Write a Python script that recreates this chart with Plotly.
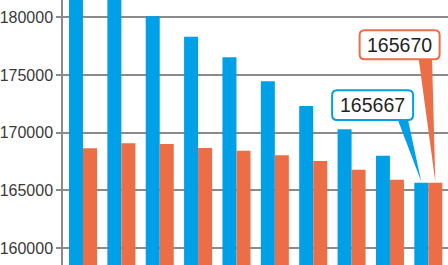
import plotly.graph_objects as go

categories = list(range(10))
blue_values = [183650, 181880, 180100, 178320, 176530, 174450, 172310, 170290, 168000, 165667]
orange_values = [168640, 169080, 169020, 168670, 168430, 168040, 167540, 166790, 165920, 165670]
y_ticks = [160000, 165000, 170000, 175000, 180000]

BLUE = "#00A0E9"
ORANGE = "#EC6E46"
GRID = "#8a8a8a"

BARGAP = 0.27
bar_w = (1 - BARGAP) / 2

fig = go.Figure()
fig.add_bar(x=categories, y=blue_values, marker=dict(color=BLUE, line=dict(width=0)), name="blue")
fig.add_bar(x=categories, y=orange_values, marker=dict(color=ORANGE, line=dict(width=0)), name="orange")


def rounded_rect(x0, x1, y0, y1, r):
    return (f"M {x0+r},{y1} L {x1-r},{y1} Q {x1},{y1} {x1},{y1-r} "
            f"L {x1},{y0+r} Q {x1},{y0} {x1-r},{y0} L {x0+r},{y0} "
            f"Q {x0},{y0} {x0},{y0+r} L {x0},{y1-r} Q {x0},{y1} {x0+r},{y1} Z")


def callout(xc, yv, color, text, box, base):
    bx0, bx1, by0, by1 = box
    # pointer triangle
    fig.add_shape(type="path", xref="x", yref="y", xsizemode="pixel", ysizemode="pixel",
                  xanchor=xc, yanchor=yv,
                  path=f"M {base[0]},{by0+1} L {base[1]},{by0+1} L 0,1 Z",
                  fillcolor=color, line=dict(width=0), layer="above")
    fig.add_shape(type="path", xref="x", yref="y", xsizemode="pixel", ysizemode="pixel",
                  xanchor=xc, yanchor=yv,
                  path=rounded_rect(bx0, bx1, by0, by1, 5),
                  fillcolor="white", line=dict(color=color, width=2), layer="above")
    fig.add_annotation(x=xc, y=yv, xref="x", yref="y", text=text, showarrow=False,
                       xshift=(bx0 + bx1) / 2, yshift=(by0 + by1) / 2,
                       font=dict(family="Liberation Sans, Arial", size=19.5, color="#222222"))


last = len(categories) - 1
callout(categories[last] + bar_w / 2, orange_values[last], ORANGE, str(orange_values[last]),
        (-75.7, 4.3, 123.4, 152.4), (-16.7, -3.3))
callout(categories[last] - bar_w / 2, blue_values[last], BLUE, str(blue_values[last]),
        (-89.2, -8.2, 62.7, 92.4), (-23.8, -13.5))

fig.update_layout(
    width=448, height=265,
    margin=dict(l=63, r=0, t=0, b=0),
    paper_bgcolor="white", plot_bgcolor="white",
    barmode="group", bargap=BARGAP, bargroupgap=0,
    showlegend=False,
    xaxis=dict(visible=False, range=[-0.521, 9.513]),
    yaxis=dict(range=[158530, 181500], tickvals=y_ticks, ticktext=[str(v) for v in y_ticks],
               showgrid=True, gridcolor=GRID, gridwidth=1.5,
               showline=True, linecolor=GRID, linewidth=1.5,
               ticks="outside", ticklen=5, tickcolor=GRID, tickwidth=1.5,
               zeroline=False,
               tickfont=dict(family="Liberation Sans, Arial", size=16, color="#3a3a3a")),
)

fig.write_html("out.html")
